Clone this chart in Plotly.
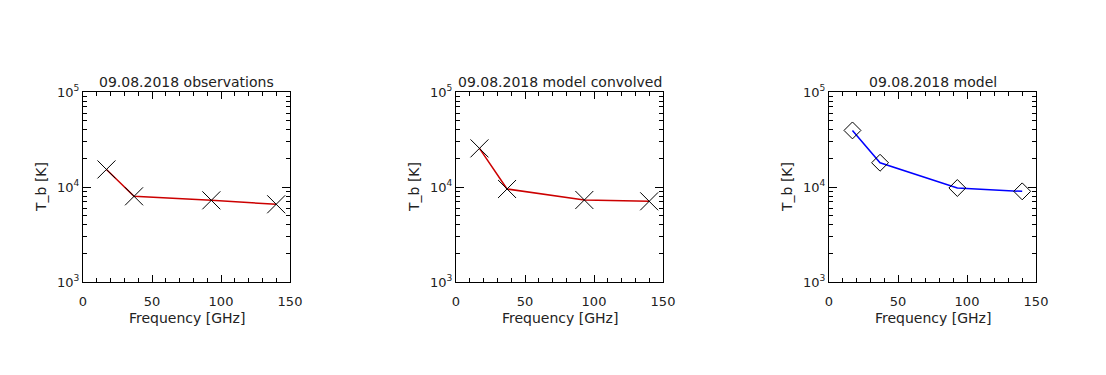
import plotly.graph_objects as go

freq = [17, 37, 93, 140]
tb_obs = [15300, 7980, 7240, 6580]
tb_conv = [25500, 9530, 7300, 7070]
tb_model = [39400, 18000, 9760, 9000]

titles = ["09.08.2018 observations", "09.08.2018 model convolved", "09.08.2018 model"]
series = [tb_obs, tb_conv, tb_model]
line_colors = ["#cc0000", "#cc0000", "#0000ff"]
markers = ["x-thin-open", "x-thin-open", "diamond-open"]
marker_sizes = [18, 18, 13]
xtick_vals = [0, 50, 100, 150]
ytick_vals = [1e3, 1e4, 1e5]
ytick_text = ["10<sup>3</sup>", "10<sup>4</sup>", "10<sup>5</sup>"]

W, H = 1106, 375
OFF = 8  # page body margin
lefts = [83 - OFF, 456 - OFF, 829 - OFF]
box_w = 207
top_px, bot_px = 92 - OFF, 282 - OFF

font = dict(family="DejaVu Sans, sans-serif", size=14, color="#222222")
tfont = dict(family="DejaVu Sans, sans-serif", size=13, color="#222222")

fig = go.Figure()
for i in range(3):
    xa = "x" if i == 0 else f"x{i+1}"
    ya = "y" if i == 0 else f"y{i+1}"
    fig.add_trace(go.Scatter(
        x=freq, y=series[i], xaxis=xa, yaxis=ya, mode="lines+markers",
        line=dict(color=line_colors[i], width=1.5),
        marker=dict(symbol=markers[i], size=marker_sizes[i],
                    color="black", line=dict(color="black", width=1)),
        showlegend=False, cliponaxis=False,
    ))
    dom_x = [lefts[i] / W, (lefts[i] + box_w) / W]
    dom_y = [1 - bot_px / H, 1 - top_px / H]
    xkey = "xaxis" if i == 0 else f"xaxis{i+1}"
    ykey = "yaxis" if i == 0 else f"yaxis{i+1}"
    fig.layout[xkey] = dict(
        domain=dom_x, anchor=ya, range=[0, 150], tickvals=xtick_vals,
        ticks="inside", ticklen=7, tickwidth=1, tickcolor="black",
        showline=True, linecolor="black", linewidth=1, mirror="allticks",
        showgrid=False, zeroline=False, tickfont=tfont, automargin=False,
        ticklabelstandoff=7,
        minor=dict(dtick=10, ticks="inside", ticklen=4, tickcolor="black", showgrid=False),
    )
    fig.layout[ykey] = dict(
        domain=dom_y, anchor=xa, type="log", range=[3, 5],
        tickvals=ytick_vals, ticktext=ytick_text,
        ticks="inside", ticklen=8, tickwidth=1, tickcolor="black",
        showline=True, linecolor="black", linewidth=1, mirror="allticks",
        showgrid=False, zeroline=False, tickfont=tfont, automargin=False,
        minor=dict(dtick="D1", ticks="inside", ticklen=4, tickcolor="black", showgrid=False),
    )
    cx = (lefts[i] + box_w / 2) / W
    fig.add_annotation(text=titles[i], x=cx, y=1 - (82 - OFF) / H, xref="paper", yref="paper",
                       showarrow=False, font=font, xanchor="center", yanchor="middle")
    fig.add_annotation(text="Frequency [GHz]", x=cx, y=1 - (318 - OFF) / H, xref="paper", yref="paper",
                       showarrow=False, font=font, xanchor="center", yanchor="middle")
    fig.add_annotation(text="T_b [K]", x=(lefts[i] - 42) / W, y=1 - (top_px + bot_px) / 2 / H,
                       xref="paper", yref="paper", textangle=-90,
                       showarrow=False, font=font, xanchor="center", yanchor="middle")

fig.update_layout(width=W, height=H, margin=dict(l=0, r=0, t=0, b=0, autoexpand=False),
                  paper_bgcolor="white", plot_bgcolor="white")
fig.write_html("out.html")
